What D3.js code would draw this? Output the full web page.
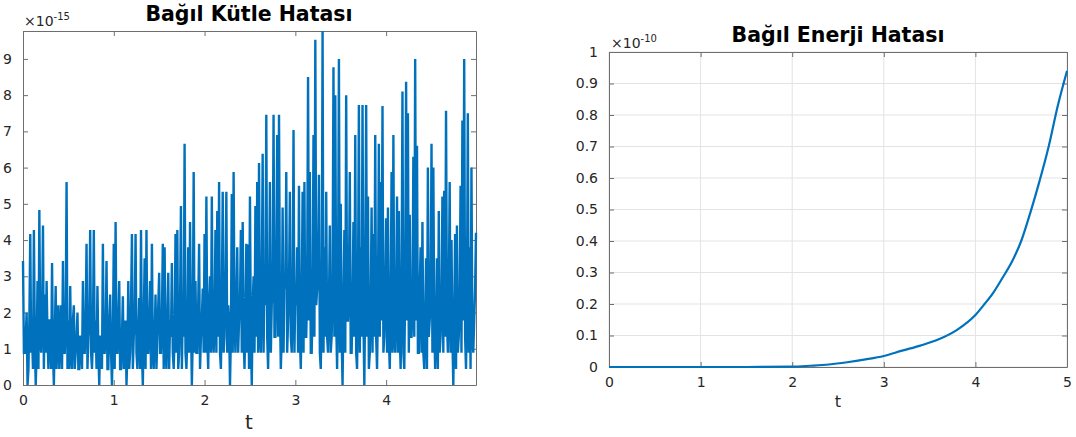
<!DOCTYPE html>
<html>
<head>
<meta charset="utf-8">
<script src="https://cdn.jsdelivr.net/npm/d3@7"></script>
<style>
  body { margin: 0; background: #fff; }
  svg text { font-family: "DejaVu Sans", sans-serif; }
</style>
</head>
<body>
<div id="chart"></div>
<script>
// Bağıl Kütle Hatası (x1e-15), one value every kutleDt
var kutleDt = 0.01;
var kutleValues = [
  3.42, 0.89, 0.89, 1.33, 2.0, 0, 0.44, 1.78, 4.17, 0.89,
  1.33, 0.44, 4.28, 1.33, 0, 0.89, 2.87, 0.44, 4.83, 1.33,
  0.89, 1.78, 4.4, 0.44, 2.5, 0.89, 2.87, 1.33, 0.44, 1.78,
  1.78, 0.44, 3.37, 0.89, 0, 1.33, 2.73, 0.44, 1.33, 2.2,
  0.44, 1.33, 2.2, 0.44, 3.42, 0.89, 0.89, 1.78, 5.6, 0.44,
  1.78, 0.44, 2.73, 0.89, 0.44, 1.78, 2.2, 0.44, 0.89, 1.33,
  2.0, 0.44, 0.44, 1.33, 1.33, 0.44, 2.87, 0.89, 0.89, 1.78,
  3.9, 0.44, 1.33, 1.78, 4.28, 0.89, 0.44, 1.33, 4.28, 0.89,
  1.78, 0.44, 2.73, 0.89, 0, 1.33, 1.33, 0.44, 3.9, 0.89,
  0.89, 1.33, 3.42, 0.44, 0.44, 1.78, 2.5, 0.89, 0, 1.33,
  3.9, 0.44, 4.5, 0.89, 0.89, 1.78, 2.87, 0.44, 0.44, 1.33,
  2.45, 0.44, 1.33, 1.78, 0, 0.89, 2.87, 0.44, 0.89, 2.2,
  4.17, 0.44, 1.33, 1.78, 4.17, 0.89, 0.44, 1.33, 2.4, 0.44,
  4.28, 0.89, 0, 1.78, 3.5, 0.44, 4.28, 0.89, 0.89, 1.78,
  2.87, 0.44, 3.9, 0.89, 0.44, 1.33, 2.5, 0.44, 1.33, 2.2,
  3.1, 0.89, 0.89, 1.78, 3.9, 0.44, 3.8, 0.89, 0.44, 1.78,
  3.1, 0.44, 1.78, 1.33, 3.37, 0.89, 0.44, 1.33, 4.17, 0.89,
  4.28, 0.44, 0.89, 2.2, 4.94, 0.44, 2.2, 1.33, 6.66, 0.89,
  0.44, 1.33, 3.8, 0.89, 4.5, 1.78, 0, 1.33, 5.88, 0.89,
  2.87, 0.89, 0.89, 2.2, 3.9, 0.44, 1.33, 1.78, 2.66, 0.89,
  4.17, 0.89, 5.2, 1.33, 0.44, 2.2, 3.0, 0.89, 5.2, 1.33,
  0.89, 1.78, 4.28, 0.89, 4.8, 1.33, 5.6, 0.89, 0.44, 2.2,
  5.33, 0.89, 1.33, 2.66, 5.33, 0.89, 2.2, 1.78, 0, 1.33,
  5.27, 0.89, 5.88, 1.78, 0.89, 2.2, 3.8, 0.89, 1.78, 2.2,
  4.28, 0.89, 4.5, 1.33, 0.44, 1.78, 3.9, 0.89, 3.88, 0.44,
  5.2, 1.33, 0, 2.2, 3.0, 0.89, 4.94, 1.33, 5.6, 0.89,
  6.13, 1.33, 0.89, 2.66, 6.38, 0.89, 3.0, 2.2, 7.46, 1.33,
  0.44, 2.2, 5.6, 0.89, 2.2, 2.66, 7.46, 1.33, 1.33, 3.11,
  6.9, 1.33, 7.46, 2.2, 0.44, 1.33, 4.9, 0.89, 3.0, 2.66,
  5.88, 0.89, 1.78, 2.66, 5.33, 1.33, 0.89, 2.2, 7.04, 0.89,
  2.66, 2.2, 3.8, 0.89, 5.5, 1.33, 0.44, 2.2, 5.33, 0.89,
  5.6, 1.33, 1.33, 2.66, 8.5, 1.78, 5.88, 0.89, 0.89, 2.2,
  6.9, 1.33, 9.53, 2.2, 2.66, 3.11, 5.8, 0.89, 0.44, 2.2,
  9.77, 0.89, 3.8, 1.33, 5.33, 1.33, 0.89, 2.2, 4.4, 0.89,
  1.33, 2.66, 8.77, 1.33, 8.0, 1.78, 0.44, 2.66, 9.0, 0.89,
  5.0, 1.33, 0, 2.2, 4.28, 0.89, 8.0, 1.78, 1.78, 2.66,
  5.88, 0.89, 0.89, 2.2, 4.5, 1.33, 6.9, 0.89, 0.44, 2.66,
  7.73, 0.89, 3.8, 1.33, 7.73, 1.78, 0, 2.66, 7.73, 1.33,
  5.2, 0.44, 0.89, 2.2, 4.9, 0.89, 4.17, 1.33, 6.9, 1.33,
  0.44, 2.2, 6.66, 1.33, 5.6, 1.78, 7.7, 0.89, 1.33, 2.66,
  4.6, 0.89, 4.9, 1.33, 0.44, 2.2, 5.88, 0.89, 6.9, 1.33,
  0.89, 2.2, 5.2, 0.89, 4.8, 1.33, 0.44, 2.66, 8.1, 0.89,
  0.44, 2.66, 8.37, 1.78, 7.5, 0.89, 4.7, 1.33, 1.33, 2.2,
  6.3, 1.33, 9.0, 1.78, 6.6, 0.89, 0.89, 2.66, 3.8, 0.89,
  4.5, 0.89, 0.44, 1.78, 3.5, 0.44, 6.0, 1.33, 1.78, 2.2,
  6.66, 0.89, 6.0, 1.78, 0.44, 1.33, 3.5, 0.44, 4.8, 0.89,
  1.33, 2.2, 5.2, 0.89, 5.36, 1.33, 7.57, 1.78, 0.89, 2.2,
  5.6, 0.89, 4.0, 1.33, 0, 1.78, 4.17, 0.44, 4.4, 0.89,
  1.33, 2.2, 5.5, 0.89, 7.3, 1.78, 9.0, 1.33, 0.44, 2.2,
  7.5, 0.89, 3.8, 0.44, 6.0, 1.33, 0.89, 1.78, 2.66, 4.2
];
var kutleXTicks = [0, 1, 2, 3, 4];
var kutleYTicks = [0, 1, 2, 3, 4, 5, 6, 7, 8, 9];

// Bağıl Enerji Hatası (x1e-10)
var enerjiT = [0, 1, 1.5, 2.0, 2.2, 2.4, 2.6, 2.8, 3.0, 3.2, 3.4, 3.6, 3.8, 4.0, 4.1, 4.2, 4.3, 4.4, 4.5, 4.6, 4.7, 4.8, 4.9, 5.0];
var enerjiValues = [0, 0, 0, 0.001, 0.004, 0.008, 0.015, 0.024, 0.035, 0.052, 0.068, 0.088, 0.118, 0.165, 0.2, 0.238, 0.285, 0.335, 0.4, 0.49, 0.59, 0.70, 0.83, 0.94];
var enerjiXTicks = [0, 1, 2, 3, 4, 5];
var enerjiYTicks = [0, 0.1, 0.2, 0.3, 0.4, 0.5, 0.6, 0.7, 0.8, 0.9, 1];

var width = 1076, height = 437;
var lineColor = "#0072bd", textColor = "#262626", boxColor = "#6e6e6e";

var svg = d3.select("#chart").append("svg")
  .attr("width", width).attr("height", height);

function drawAxes(g, x, y, xTicks, yTicks, grid) {
  var w = x.range()[1], h = y.range()[0];
  if (grid) {
    g.append("g").selectAll("line").data(xTicks).enter().append("line")
      .attr("x1", d => x(d)).attr("x2", d => x(d)).attr("y1", 0).attr("y2", h)
      .attr("stroke", "#e3e3e3");
    g.append("g").selectAll("line").data(yTicks).enter().append("line")
      .attr("y1", d => y(d)).attr("y2", d => y(d)).attr("x1", 0).attr("x2", w)
      .attr("stroke", "#e3e3e3");
  }
  var fmt = d3.format("~g");
  var bottom = g.append("g").attr("transform", "translate(0," + h + ")")
    .call(d3.axisBottom(x).tickValues(xTicks).tickSizeInner(-5).tickSizeOuter(0).tickPadding(10).tickFormat(fmt));
  var left = g.append("g")
    .call(d3.axisLeft(y).tickValues(yTicks).tickSizeInner(-5).tickSizeOuter(0).tickPadding(11).tickFormat(fmt));
  var top = g.append("g")
    .call(d3.axisTop(x).tickValues(xTicks).tickSizeInner(-5).tickSizeOuter(0).tickFormat(""));
  var right = g.append("g").attr("transform", "translate(" + w + ",0)")
    .call(d3.axisRight(y).tickValues(yTicks).tickSizeInner(-5).tickSizeOuter(0).tickFormat(""));
  [bottom, left, top, right].forEach(function(a) {
    a.selectAll("path, line").attr("stroke", boxColor);
    a.selectAll("text").attr("fill", textColor).style("font-size", "14px");
  });
}

function exponent(g, x0, y0, power) {
  var t = g.append("text").attr("x", x0).attr("y", y0)
    .attr("fill", textColor).style("font-size", "14px");
  t.append("tspan").text("×10");
  t.append("tspan").attr("dy", -6).style("font-size", "10px").text(power);
}

// ---- left panel
var left = svg.append("g").attr("transform", "translate(23,31)");
var kx = d3.scaleLinear().domain([0, (kutleValues.length - 1) * kutleDt]).range([0, 453]);
var ky = d3.scaleLinear().domain([0, d3.max(kutleValues)]).range([354, 0]);
drawAxes(left, kx, ky, kutleXTicks, kutleYTicks, false);
left.append("path")
  .datum(kutleValues)
  .attr("fill", "none").attr("stroke", lineColor).attr("stroke-width", 2.4)
  .attr("d", d3.line().x((d, i) => kx(i * kutleDt)).y(d => ky(d)));
left.append("text").attr("x", 226).attr("y", -10).attr("text-anchor", "middle")
  .style("font-size", "20.5px").style("font-weight", "bold").attr("fill", "#000")
  .text("Bağıl Kütle Hatası");
exponent(left, 1, -5, "-15");
left.append("text").attr("x", 226).attr("y", 398).attr("text-anchor", "middle")
  .attr("fill", textColor).style("font-size", "20px").text("t");

// ---- right panel
var right = svg.append("g").attr("transform", "translate(609,52)");
var ex = d3.scaleLinear().domain([0, 5]).range([0, 458]);
var ey = d3.scaleLinear().domain([0, 1]).range([315, 0]);
drawAxes(right, ex, ey, enerjiXTicks, enerjiYTicks, true);
right.append("path")
  .datum(enerjiT.map((t, i) => [t, enerjiValues[i]]))
  .attr("fill", "none").attr("stroke", lineColor).attr("stroke-width", 2.2)
  .attr("d", d3.line().curve(d3.curveMonotoneX).x(d => ex(d[0])).y(d => ey(d[1])));
right.append("text").attr("x", 229).attr("y", -10).attr("text-anchor", "middle")
  .style("font-size", "20.5px").style("font-weight", "bold").attr("fill", "#000")
  .text("Bağıl Enerji Hatası");
exponent(right, 2, -4, "-10");
right.append("text").attr("x", 229).attr("y", 355).attr("text-anchor", "middle")
  .attr("fill", textColor).style("font-size", "16px").text("t");
</script>
</body>
</html>
